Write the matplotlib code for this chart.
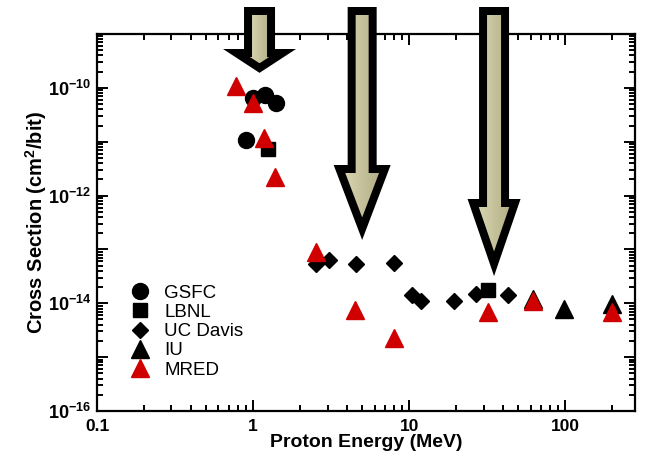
import matplotlib
matplotlib.use('Agg')
import matplotlib.pyplot as plt
import numpy as np
from matplotlib.patches import Polygon
from matplotlib.ticker import LogLocator, FuncFormatter, NullFormatter

plt.rcParams['font.family'] = 'Liberation Sans'
plt.rcParams['mathtext.fontset'] = 'custom'
plt.rcParams['mathtext.rm'] = 'Liberation Sans'
plt.rcParams['mathtext.bf'] = 'Liberation Sans:bold'

# SEU cross section (cm^2/bit) vs proton energy (MeV)
gsfc_e = [0.90, 1.0, 1.2, 1.4]
gsfc_xs = [1.06e-11, 6.5e-11, 7.3e-11, 5.3e-11]
lbnl_e = [1.25, 32]
lbnl_xs = [7.4e-12, 1.8e-14]
ucd_e = [2.54, 3.08, 4.58, 8.0, 10.4, 11.9, 19.4, 26.8, 42.9]
ucd_xs = [5.3e-14, 6.4e-14, 5.3e-14, 5.7e-14, 1.4e-14, 1.1e-14, 1.1e-14, 1.47e-14, 1.4e-14]
iu_e = [62, 98, 198]
iu_xs = [1.19e-14, 7.9e-15, 9.5e-15]
mred_e = [0.78, 1.0, 1.18, 1.38, 2.54, 4.53, 8.0, 31.8, 62, 198]
mred_xs = [1.1e-10, 5.3e-11, 1.17e-11, 2.2e-12, 9.1e-14, 7.6e-15, 2.3e-15, 7e-15, 1.1e-14, 6.8e-15]

# energies the arrows point at, and where the tips stop
arrow_e = [1.1, 5.0, 35.0]
arrow_tip = [1.9e-10, 1.5e-13, 3.2e-14]

W, H = 645, 457
fig = plt.figure(figsize=(W / 100, H / 100), dpi=100)
ax = fig.add_axes([97 / W, 1 - 411 / H, 538 / W, 377 / H])

ax.plot(gsfc_e, gsfc_xs, 'o', color='black', ms=11.5, label='GSFC')
ax.plot(lbnl_e, lbnl_xs, 's', color='black', ms=10, label='LBNL')
ax.plot(ucd_e, ucd_xs, 'D', color='black', ms=8.2, label='UC Davis')
ax.plot(iu_e, iu_xs, '^', color='black', ms=13, label='IU')
ax.plot(mred_e, mred_xs, '^', color='#d00000', ms=13, label='MRED')

ax.set_xscale('log')
ax.set_yscale('log')
ax.set_xlim(0.1, 280)
ax.set_ylim(1e-16, 1e-9)

ax.xaxis.set_major_locator(LogLocator(base=10, numticks=10))
ax.xaxis.set_minor_locator(LogLocator(base=10, subs=np.arange(2, 10), numticks=10))
ax.xaxis.set_major_formatter(FuncFormatter(lambda v, p: '%g' % v))
ax.xaxis.set_minor_formatter(NullFormatter())

ax.yaxis.set_major_locator(LogLocator(base=10, numticks=20))
ax.yaxis.set_minor_locator(LogLocator(base=10, subs=np.arange(2, 10), numticks=20))


def ylab(v, p):
    k = int(round(np.log10(v)))
    if k % 2:
        return ''
    return r'$\mathbf{10^{%d}}$' % k


ax.yaxis.set_major_formatter(FuncFormatter(ylab))
ax.yaxis.set_minor_formatter(NullFormatter())

for s in ax.spines.values():
    s.set_linewidth(1.6)
ax.tick_params(which='both', direction='in', top=True, right=True, width=1.4)
ax.tick_params(which='major', length=8)
ax.tick_params(which='minor', length=4.5)
ax.tick_params(axis='x', labelsize=12.5, pad=6)
ax.tick_params(axis='y', labelsize=13, pad=4)
for t in ax.get_xticklabels():
    t.set_fontweight('bold')

ax.set_xlabel('Proton Energy (MeV)', fontsize=14, fontweight='bold', labelpad=0)
ax.set_ylabel('Cross Section (cm$^\\mathbf{2}$/bit)', fontsize=14.5, fontweight='bold', labelpad=-1)

ax.legend(loc='upper left', bbox_to_anchor=(0.0625, 0.335), frameon=False,
          fontsize=13.5, borderpad=0, borderaxespad=0, handlelength=1.0,
          handletextpad=0.8, labelspacing=0.11, numpoints=1)

# overlay in pixel coordinates for the arrows
ov = fig.add_axes([0, 0, 1, 1], zorder=10)
ov.set_axis_off()
ov.patch.set_alpha(0)

shapes = [(15.5, 49, 36.5), (14.5, 165, 28.5), (15.0, 199, 26.5)]
grad = np.linspace(0, 1, 64)[None, :]
cmap = matplotlib.colors.LinearSegmentedColormap.from_list('khaki', ['#d6d4b0', '#b4af86'])
top = 7
b = 8
for e, tip_v, (w, hy, hw) in zip(arrow_e, arrow_tip, shapes):
    xc, yd = ax.transData.transform((e, tip_v))
    ty = H - yd
    outer = [(xc - w, top), (xc + w, top), (xc + w, hy), (xc + hw, hy),
             (xc, ty), (xc - hw, hy), (xc - w, hy)]
    ov.add_patch(Polygon(outer, closed=True, facecolor='black', edgecolor='black', lw=0))
    # inset the outline by the border width
    a = np.arctan2(hw, ty - hy)
    ity = ty - b / np.sin(a)
    ihy = hy + b
    ihw = (ity - ihy) * np.tan(a)
    iw = w - b
    inner = [(xc - iw, top + b), (xc + iw, top + b), (xc + iw, ihy), (xc + ihw, ihy),
             (xc, ity), (xc - ihw, ihy), (xc - iw, ihy)]
    ip = Polygon(inner, closed=True, facecolor='none', lw=0)
    ov.add_patch(ip)
    im = ov.imshow(grad, cmap=cmap, aspect='auto',
                   extent=(xc - ihw, xc + ihw, ity, top + b), zorder=3)
    im.set_clip_path(ip)

ov.set_xlim(0, W)
ov.set_ylim(H, 0)

fig.savefig('out.png', dpi=100, facecolor='white')
